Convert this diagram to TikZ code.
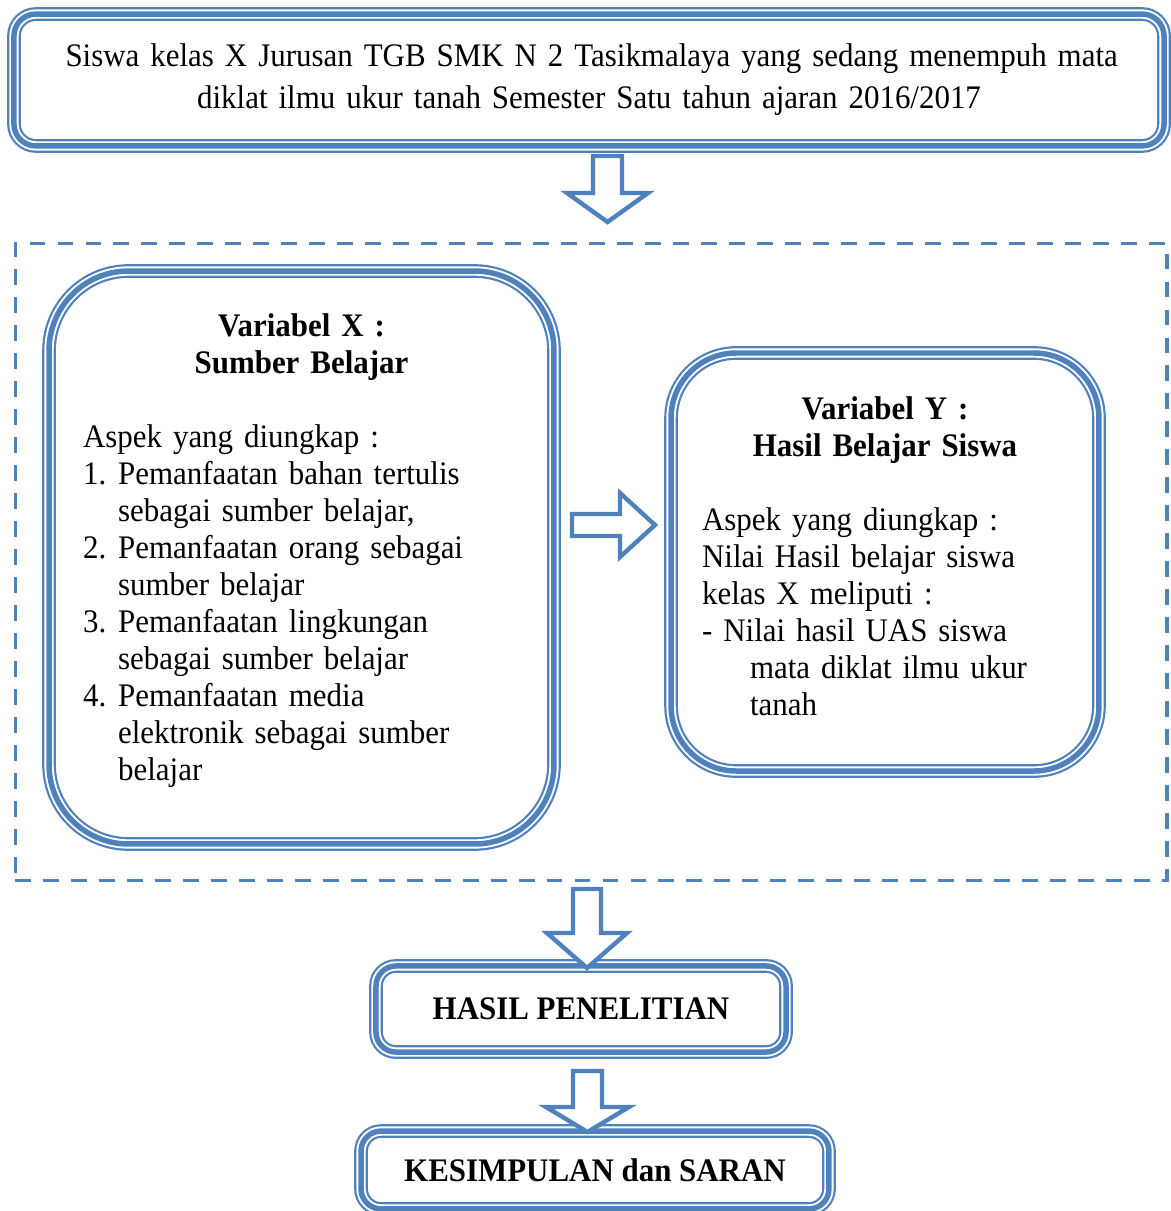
\documentclass[tikz,border=0pt]{standalone}
\usepackage{fontspec}
\setmainfont{Liberation Serif}[FakeStretch=0.94]
\usepackage{xcolor}
\usepackage{tikz}
\usetikzlibrary{positioning,calc}

\definecolor{bl}{RGB}{79,129,189}

\begin{document}
\begin{tikzpicture}[
    x=0.3646pt, y=-0.3646pt,
    font=\fontsize{12}{13.5}\selectfont,
    tribox/.style={rectangle, rounded corners=#1, fill=white, inner sep=0pt,
        postaction={draw=bl, line width=5pt},
        postaction={draw=white, line width=3.4pt},
        postaction={draw=bl, line width=2pt}},
    tribox/.default=8pt,
    grpbox/.style={rectangle, draw=bl, line width=1.1pt, dash pattern=on 5.8pt off 4.4pt, inner sep=0pt},
    blockarrow/.style={draw=bl, line width=1.6pt, fill=white, line join=miter}
]
    \useasboundingbox (0,0) rectangle (1171,1211);

    % --- Dashed frame round the two variables ---
    \node[grpbox, minimum width=420pt, minimum height=231.9pt] (grp) at (591,562) {};

    % --- Top: population ---
    \node[tribox=8pt, minimum width=419.3pt, minimum height=48.1pt, text width=381.7pt,
          align=center, font=\fontsize{12}{15.3}\selectfont] (siswa) at (589,80)
        {\makebox[381.7pt][s]{Siswa kelas X Jurusan TGB SMK N 2 Tasikmalaya yang sedang menempuh mata}\\
         diklat ilmu ukur tanah Semester Satu tahun ajaran 2016/2017};

    % --- Left: Variabel X ---
    \node[tribox=29pt, minimum width=184.1pt, minimum height=208.9pt, text width=159.3pt,
          align=left] (varx) at (301.5,557.5)
        {{\centering\bfseries Variabel X :\\ Sumber Belajar\par}
         \vspace{13.5pt}
         Aspek yang diungkap :\\
         \makebox[12.8pt][l]{1.}Pemanfaatan bahan tertulis\\
         \hspace*{12.8pt}sebagai sumber belajar,\\
         \makebox[12.8pt][l]{2.}Pemanfaatan orang sebagai\\
         \hspace*{12.8pt}sumber belajar\\
         \makebox[12.8pt][l]{3.}Pemanfaatan lingkungan\\
         \hspace*{12.8pt}sebagai sumber belajar\\
         \makebox[12.8pt][l]{4.}Pemanfaatan media\\
         \hspace*{12.8pt}elektronik sebagai sumber\\
         \hspace*{12.8pt}belajar\rule[-7.7pt]{0pt}{0pt}};

    % --- Right: Variabel Y ---
    \node[tribox=23.7pt, minimum width=156pt, minimum height=152.4pt, text width=133.4pt,
          align=left] (vary) at (885,562)
        {{\centering\bfseries Variabel Y :\\ Hasil Belajar Siswa\par}
         \vspace{13.5pt}
         Aspek yang diungkap :\\
         Nilai Hasil belajar siswa\\
         kelas X meliputi :\\
         - Nilai hasil UAS siswa\\
         \hspace*{17.5pt}mata diklat ilmu ukur\\
         \hspace*{17.5pt}tanah\rule[-4.4pt]{0pt}{0pt}};

    % --- Bottom: results ---
    \node[tribox=7.3pt, minimum width=149.5pt, minimum height=31.4pt,
          font=\fontsize{12}{13.5}\selectfont\bfseries] (hasil) at (581,1009) {HASIL PENELITIAN};
    \node[tribox=7.3pt, minimum width=170.6pt, minimum height=28.4pt,
          font=\fontsize{12}{13.5}\selectfont\bfseries] (saran) at (595,1170) {KESIMPULAN dan SARAN};

    % Block arrows
    \draw[blockarrow] (593,156) -- (622,156) -- (622,193) -- (648,193) -- (607.5,222)
        -- (567,193) -- (593,193) -- cycle;
    \draw[blockarrow] (572,514) -- (620,514) -- (620,493) -- (655,525) -- (620,557)
        -- (620,536) -- (572,536) -- cycle;
    \draw[blockarrow] (573,889) -- (601,889) -- (601,933) -- (627,933) -- (587,968)
        -- (547,933) -- (573,933) -- cycle;
    \draw[blockarrow] (573,1071) -- (602,1071) -- (602,1107) -- (629,1107) -- (587.5,1132)
        -- (546,1107) -- (573,1107) -- cycle;

\end{tikzpicture}
\end{document}
